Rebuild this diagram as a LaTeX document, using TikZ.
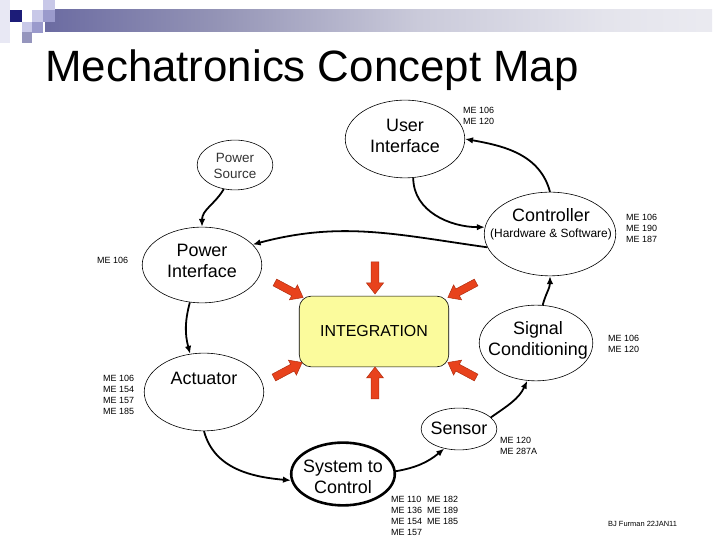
\documentclass[tikz,border=0pt]{standalone}
\usepackage{fontspec}
\setmainfont{Liberation Sans}
\usetikzlibrary{arrows.meta,shapes.geometric}

\definecolor{barnavy}{HTML}{1C1C78}
\definecolor{barmid}{HTML}{4C4C92}
\definecolor{barlav}{HTML}{9494B6}
\definecolor{barpale}{HTML}{CACADA}
\definecolor{barfog}{HTML}{E4E4EC}
\definecolor{tilemid}{HTML}{9A9ACC}
\definecolor{tilelight}{HTML}{C8C8E8}
\definecolor{tilepale}{HTML}{E8E8F4}
\definecolor{integfill}{HTML}{FBFB9C}
\definecolor{pushred}{HTML}{E8421C}
\definecolor{pushedge}{HTML}{B02E10}

\pgfdeclarehorizontalshading{titlebar}{100bp}{color(0bp)=(barnavy); color(15bp)=(barmid);
  color(38bp)=(barlav); color(53bp)=(barpale); color(67bp)=(barfog); color(100bp)=(white)}

\begin{document}
\begin{tikzpicture}[
  x=1bp,y=1bp,
  >={Latex[length=8pt,width=6.5pt]},
  bubble/.style={draw,ellipse,inner sep=0pt,line width=0.6pt},
  tag/.style={align=center,inner sep=0pt,font=\fontsize{18}{21}\selectfont},
  course/.style={anchor=base west,align=left,inner sep=0pt,font=\fontsize{9}{11.2}\selectfont},
  link/.style={->,line width=1.8pt},
  redpush/.pic={\filldraw[fill=pushred,draw=pushedge,line width=0.5pt]
    (-16,-3.8) -- (5,-3.8) -- (5,-8.5) -- (16,0) -- (5,8.5) -- (5,3.8) -- (-16,3.8) -- cycle;}
]
  \useasboundingbox (0,0) rectangle (720,540);

  \fill[shading=titlebar] (45,508) rectangle (712,530);
  \fill[tilepale] (0,497) rectangle (10,540);
  \fill[tilelight] (32,518) rectangle (43,530);
  \fill[tilelight] (43,530) rectangle (55,540);
  \fill[tilemid] (43,518) rectangle (55,530);
  \fill[tilelight] (22,508) rectangle (32,518);
  \fill[tilemid] (32,507) rectangle (43,518);
  \fill[tilemid!80!gray] (22,497) rectangle (32,508);
  \fill[barnavy] (10,518) rectangle (22,530);

  \node[anchor=base west,inner sep=0pt,font=\fontsize{44}{50}\selectfont] (title) at (45,458)
    {Mechatronics Concept Map};

  \node[bubble,minimum width=120,minimum height=78] (ui) at (405,401) {};
  \node[bubble,minimum width=76,minimum height=50] (ps) at (235,375) {};
  \node[bubble,minimum width=120,minimum height=76] (pi) at (202,275) {};
  \node[bubble,minimum width=132,minimum height=84] (ctrl) at (550,306) {};
  \node[bubble,minimum width=114,minimum height=76] (sc) at (536,197) {};
  \node[bubble,minimum width=120,minimum height=78] (act) at (204,148) {};
  \node[bubble,minimum width=76,minimum height=42] (sens) at (459,111) {};
  \node[bubble,line width=2.6pt,minimum width=104,minimum height=63] (sys) at (343,66) {};
  \node[draw,line width=0.6pt,fill=integfill,rounded corners=12,minimum width=150,minimum height=71,
    font=\fontsize{16}{19}\selectfont] (integ) at (374,208.5) {INTEGRATION};

  \node[tag] (ui-t) at (405,404) {User\\Interface};
  \node[tag,text=black!80,font=\fontsize{13.5}{16}\selectfont] (ps-t) at (235,374) {Power\\Source};
  \node[tag] (pi-t) at (202,279) {Power\\Interface};
  \node[tag] (ctrl-t) at (551,325) {Controller};
  \node[tag,font=\fontsize{12}{14}\selectfont] (ctrl-s) at (551,306) {(Hardware \& Software)};
  \node[tag] (sc-t) at (538,200) {Signal\\Conditioning};
  \node[tag] (act-t) at (204,162) {Actuator};
  \node[tag] (sens-t) at (459,112) {Sensor};
  \node[tag] (sys-t) at (343,63) {System to\\Control};

  \pic (push-n) at (375,262) [rotate=-90] {redpush};
  \pic (push-s) at (375,157) [rotate=90] {redpush};
  \pic (push-nw) at (289,250) [rotate=-28] {redpush};
  \pic (push-ne) at (462,250) [rotate=-152] {redpush};
  \pic (push-sw) at (288,170) [rotate=28] {redpush};
  \pic (push-se) at (462,170) [rotate=152] {redpush};

  \draw[link] (ps.-115) to[out=-120,in=90] (pi.north);
  \draw[link] (ui.-78) to[out=-90,in=180] (ctrl.174);
  \draw[link] (ctrl.north) to[out=105,in=-10] (ui.east);
  \draw[link] (ctrl.192) to[out=172,in=15] (pi.22);
  \draw[link] (sc.80) to[out=75,in=-90] (ctrl.south);
  \draw[link] (sens.20) to[out=35,in=-115] (sc.-103);
  \draw[link] (sys.3) to[out=10,in=-140] (sens.-127);
  \draw[link] (act.south) to[out=-75,in=175] (sys.187);
  \draw[link] (pi.252) to[out=-105,in=105] (act.110);

  \node[course] (ui-me) at (463,415) {ME 106\\ME 120};
  \node[course] (ctrl-me) at (626,297) {ME 106\\ME 190\\ME 187};
  \node[course] (sc-me) at (608,187) {ME 106\\ME 120};
  \node[course] (pi-me) at (97,276) {ME 106};
  \node[course] (act-me) at (103,125) {ME 106\\ME 154\\ME 157\\ME 185};
  \node[course] (sens-me) at (500,85) {ME 120\\ME 287A};
  \node[course] (sys-me-a) at (391,4) {ME 110\\ME 136\\ME 154\\ME 157};
  \node[course] (sys-me-b) at (427,15) {ME 182\\ME 189\\ME 185};
  \node[course,font=\fontsize{7.5}{9}\selectfont] (credit) at (608,13) {BJ Furman 22JAN11};
\end{tikzpicture}
\end{document}
